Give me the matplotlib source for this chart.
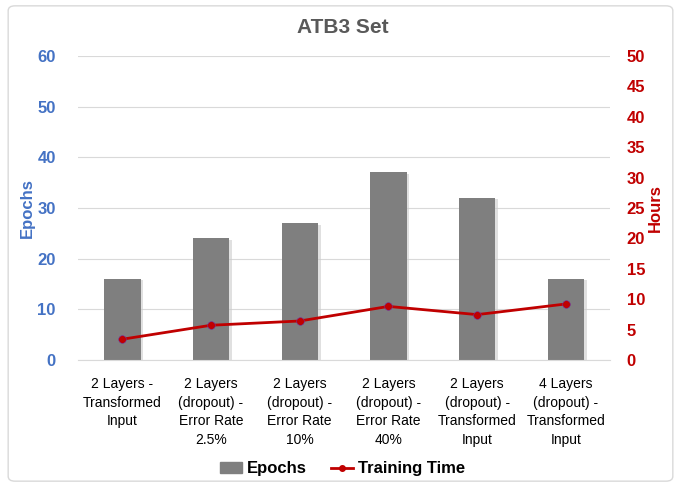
import matplotlib
matplotlib.use("Agg")
import matplotlib.pyplot as plt
import matplotlib.patheffects as pe
from matplotlib.patches import FancyBboxPatch, Patch
from matplotlib.lines import Line2D
import numpy as np

plt.rcParams['font.family'] = ['Liberation Sans', 'DejaVu Sans']

categories = ["2 Layers -\nTransformed\nInput",
              "2 Layers\n(dropout) -\nError Rate\n2.5%",
              "2 Layers\n(dropout) -\nError Rate\n10%",
              "2 Layers\n(dropout) -\nError Rate\n40%",
              "2 Layers\n(dropout) -\nTransformed\nInput",
              "4 Layers\n(dropout) -\nTransformed\nInput"]
epochs = [16, 24, 27, 37, 32, 16]
hours = [3.4, 5.7, 6.4, 8.8, 7.45, 9.2]

blue = '#4472c4'
red = '#c00000'

fig = plt.figure(figsize=(6.81, 4.87), dpi=100)
fig.patches.append(FancyBboxPatch((0.012, 0.012), 0.976, 0.976, boxstyle="round,pad=0,rounding_size=0.01",
                                  transform=fig.transFigure, fill=False, edgecolor='#d9d9d9', lw=1))
ax = fig.add_axes([0.1145, 0.261, 0.7815, 0.624])
x = np.arange(len(categories))

ax.bar(x, epochs, width=0.41, color='#7f7f7f', zorder=2,
       path_effects=[pe.SimplePatchShadow(offset=(2, -1), shadow_rgbFace='#cccccc', alpha=0.6), pe.Normal()])
ax.set_ylim(0, 60)
ax.set_yticks(range(0, 61, 10))
ax.set_xlim(-0.5, len(categories) - 0.5)
ax.grid(axis='y', color='#d9d9d9', lw=0.8, zorder=0)
ax.set_xticks(x)
ax.set_xticklabels(categories, fontsize=10, color='#000000', linespacing=1.45)
ax.tick_params(axis='x', length=0, pad=12)
ax.tick_params(axis='y', length=0, labelsize=12, labelcolor=blue, pad=16)
for t in ax.get_yticklabels():
    t.set_fontweight('bold')
for s in ax.spines.values():
    s.set_visible(False)
ax.spines['bottom'].set_visible(True)
ax.spines['bottom'].set_color('#d9d9d9')
ax.set_ylabel('Epochs', color=blue, fontsize=12, fontweight='bold', labelpad=2)

ax2 = ax.twinx()
ax2.plot(x, hours, color=red, lw=2, marker='o', markersize=5.5, markeredgecolor='#7030a0',
         markeredgewidth=0.4, zorder=3)
ax2.set_ylim(0, 50)
ax2.set_yticks(range(0, 51, 5))
ax2.tick_params(axis='y', length=0, labelsize=12, labelcolor=red, pad=12)
for t in ax2.get_yticklabels():
    t.set_fontweight('bold')
for s in ax2.spines.values():
    s.set_visible(False)
ax2.set_ylabel('Hours', color=red, fontsize=12, fontweight='bold', rotation=90, labelpad=2)

fig.text(0.503, 0.943, 'ATB3 Set', ha='center', va='center', fontsize=15, fontweight='bold', color='#595959')

handles = [Patch(color='#7f7f7f', label='Epochs'),
           Line2D([], [], color=red, lw=2, marker='o', markersize=4, label='Training Time')]
fig.legend(handles=handles, loc='center', bbox_to_anchor=(0.503, 0.037), ncol=2, frameon=False,
           prop={'weight': 'bold', 'size': 12}, handlelength=1.3, columnspacing=1.5, handletextpad=0.3)

fig.savefig('out.png', dpi=100)
